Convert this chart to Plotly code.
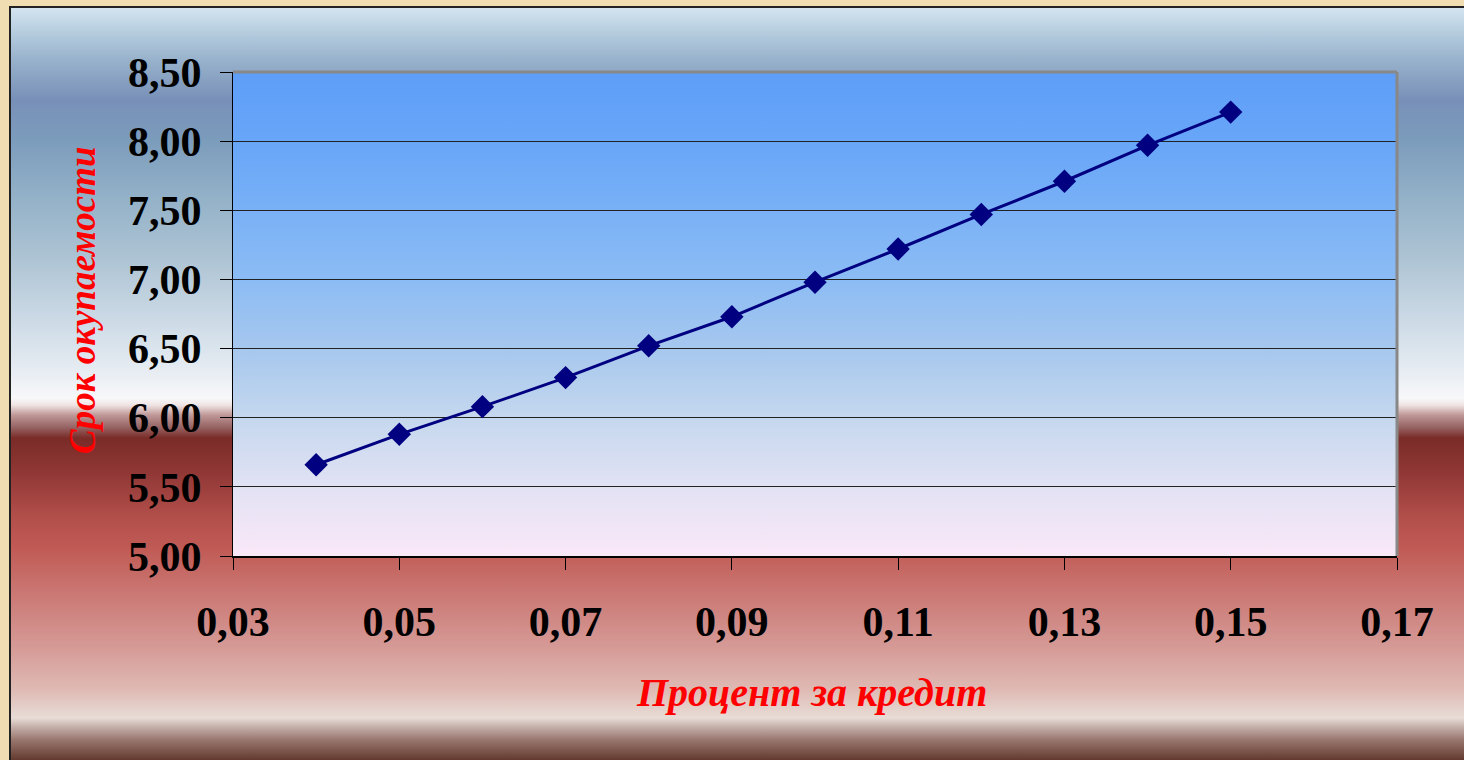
import base64
import plotly.graph_objects as go

# ---- data ----
rate = [0.04, 0.05, 0.06, 0.07, 0.08, 0.09, 0.10, 0.11, 0.12, 0.13, 0.14, 0.15]
payback = [5.66, 5.88, 6.08, 6.29, 6.52, 6.73, 6.98, 7.22, 7.47, 7.71, 7.97, 8.21]
x_title = "Процент за кредит"
y_title = "Срок окупаемости"

W, H = 1464, 760
L, R, T, B = 233, 67, 72, 204
PW, PH = W - L - R, H - T - B


def svg_uri(svg):
    return "data:image/svg+xml;base64," + base64.b64encode(svg.encode("utf-8")).decode("ascii")


# page background (beige frame + vertical gradient panel)
bg_stops_px = [
    (7, "#d5e5f0"), (30, "#b8cfe0"), (60, "#98b2cc"), (100, "#7890b8"),
    (140, "#7c9cbc"), (200, "#94b2c8"), (260, "#aec4d4"), (320, "#ccdae6"),
    (370, "#e6ecf2"), (398, "#f8f8fa"), (405, "#f0e4e4"), (415, "#c09898"),
    (428, "#946060"), (438, "#7a2c28"), (470, "#8e3634"), (520, "#b4504c"),
    (548, "#c05a55"), (600, "#cc7c78"), (650, "#d69c98"), (690, "#dfbab4"),
    (718, "#e8dcd6"), (726, "#c8b4ae"), (740, "#98766e"), (762, "#5e3428"),
]
stops = "".join(
    f'<stop offset="{(y - 7) / 755:.4f}" stop-color="{c}"/>' for y, c in bg_stops_px
)
bg_svg = (
    f'<svg xmlns="http://www.w3.org/2000/svg" width="{W}" height="{H}" '
    f'viewBox="0 0 {W} {H}" preserveAspectRatio="none">'
    f'<defs><linearGradient id="g" x1="0" y1="0" x2="0" y2="1">{stops}</linearGradient></defs>'
    f'<rect width="{W}" height="{H}" fill="#f1ddb2"/>'
    f'<rect x="10" y="7" width="1460" height="755" fill="url(#g)" stroke="#222" stroke-width="2"/>'
    f'</svg>'
)

# plot area gradient
pa_stops = [
    (0.0, "#5e9ef8"), (0.15, "#68a6f8"), (0.43, "#8cbcf4"), (0.58, "#a8c8ee"),
    (0.72, "#c6d8ee"), (0.86, "#e2e2f4"), (1.0, "#fae8f8"),
]
pstops = "".join(f'<stop offset="{o}" stop-color="{c}"/>' for o, c in pa_stops)
pa_svg = (
    f'<svg xmlns="http://www.w3.org/2000/svg" width="{PW}" height="{PH}" '
    f'viewBox="0 0 {PW} {PH}" preserveAspectRatio="none">'
    f'<defs><linearGradient id="p" x1="0" y1="0" x2="0" y2="1">{pstops}</linearGradient></defs>'
    f'<rect width="{PW}" height="{PH}" fill="url(#p)"/></svg>'
)

fig = go.Figure()
fig.add_trace(go.Scatter(
    x=rate, y=payback, mode="lines+markers",
    line=dict(color="#000080", width=3),
    marker=dict(symbol="diamond", size=18, color="#000080"),
    hoverinfo="x+y", showlegend=False,
))

tick_font = dict(family="Liberation Serif", size=42, color="black", weight="bold")
x_title_font = dict(family="Liberation Serif", size=40, color="#ff0000", weight="bold", style="italic")
y_title_font = dict(family="Liberation Serif", size=37, color="#ff0000", weight="bold", style="italic")

fig.update_layout(
    width=W, height=H,
    margin=dict(l=L, r=R, t=T, b=B, autoexpand=False),
    paper_bgcolor="#f1ddb2",
    plot_bgcolor="rgba(0,0,0,0)",
    separators=", ",
    images=[
        dict(source=svg_uri(bg_svg), xref="paper", yref="paper",
             x=-L / PW, y=1 + T / PH, sizex=W / PW, sizey=H / PH,
             xanchor="left", yanchor="top", sizing="stretch", layer="below"),
        dict(source=svg_uri(pa_svg), xref="paper", yref="paper",
             x=0, y=1, sizex=1, sizey=1,
             xanchor="left", yanchor="top", sizing="stretch", layer="below"),
    ],
    xaxis=dict(
        range=[0.03, 0.17], dtick=0.02, tick0=0.03, tickformat=".2f",
        showgrid=False, zeroline=False,
        showline=True, linecolor="black", linewidth=2,
        ticks="outside", ticklen=12, tickwidth=1, tickcolor="black",
        tickfont=tick_font, ticklabelstandoff=16,
    ),
    yaxis=dict(
        range=[5.0, 8.5], dtick=0.5, tick0=5.0, tickformat=".2f",
        showgrid=True, gridcolor="#222222", gridwidth=1.2, zeroline=False,
        showline=True, linecolor="black", linewidth=1,
        ticks="outside", ticklen=12, tickwidth=1, tickcolor="black",
        tickfont=tick_font, ticklabelstandoff=10,
    ),
    shapes=[
        dict(type="line", xref="paper", yref="paper", x0=0, x1=1, y0=1, y1=1,
             line=dict(color="#888888", width=3)),
        dict(type="line", xref="paper", yref="paper", x0=1, x1=1, y0=0, y1=1,
             line=dict(color="#888888", width=3)),
    ],
    annotations=[
        dict(text=x_title, xref="paper", yref="paper",
             x=(811 - L) / PW, y=1 - (692 - T) / PH,
             xanchor="center", yanchor="middle", showarrow=False, font=x_title_font),
        dict(text=y_title, xref="paper", yref="paper",
             x=(82 - L) / PW, y=1 - (300 - T) / PH, textangle=-90,
             xanchor="center", yanchor="middle", showarrow=False, font=y_title_font),
    ],
)

fig.write_html(
    "out.html",
    config={"displayModeBar": False},
    post_script=(
        "document.body.style.margin='0';"
        "document.body.style.overflow='hidden';"
        "document.body.style.background='#f1ddb2';"
    ),
)
